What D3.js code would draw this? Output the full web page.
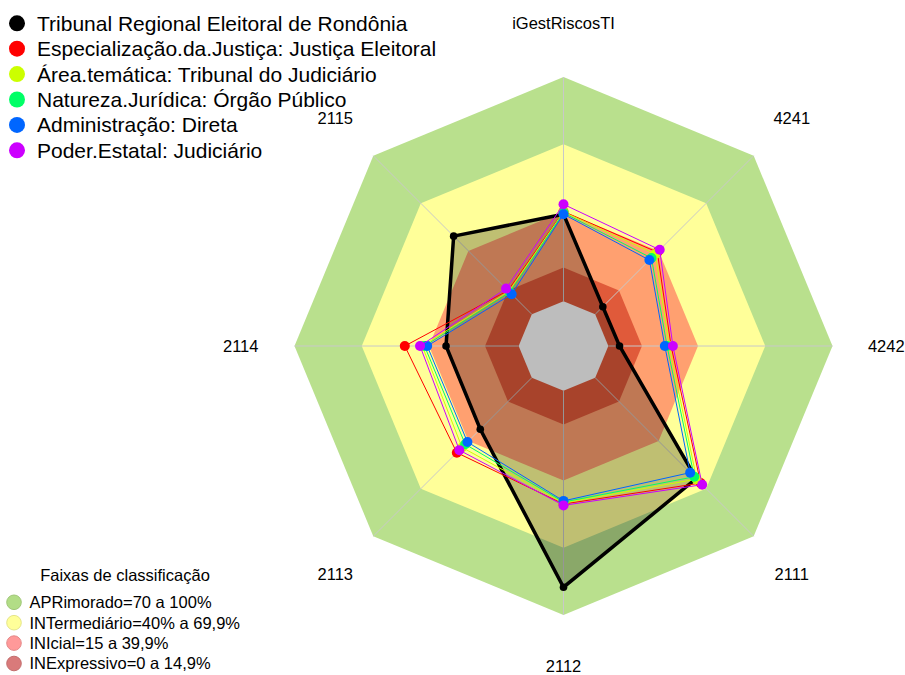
<!DOCTYPE html>
<html>
<head>
<meta charset="utf-8">
<script src="https://cdn.jsdelivr.net/npm/d3@7"></script>
<style>
  body { margin: 0; background: #ffffff; }
  text { font-family: "Liberation Sans", Arial, sans-serif; fill: #000; }
</style>
</head>
<body>
<svg id="chart" width="905" height="675"></svg>
<script>
// Radar axes, counter-clockwise from the top
const axes = ["iGestRiscosTI", "2115", "2114", "2113", "2112", "2111", "4242", "4241"];

// Series (share of the maximum score, 0..1), in axis order
const seriesNames = [
  "Tribunal Regional Eleitoral de Rondônia",
  "Especialização.da.Justiça: Justiça Eleitoral",
  "Área.temática: Tribunal do Judiciário",
  "Natureza.Jurídica: Órgão Público",
  "Administração: Direta",
  "Poder.Estatal: Judiciário"
];
const seriesColors = ["#000000", "#FF0000", "#CCFF00", "#00FF66", "#0066FF", "#CC00FF"];
const tribunal         = [0.388, 0.493, 0.324, 0.325, 0.876, 0.637, 0.050, 0.048];
const justicaEleitoral = [0.400, 0.150, 0.508, 0.473, 0.505, 0.665, 0.280, 0.392];
const tribunalJudic    = [0.398, 0.145, 0.430, 0.440, 0.500, 0.640, 0.272, 0.380];
const orgaoPublico     = [0.394, 0.138, 0.420, 0.420, 0.496, 0.625, 0.262, 0.355];
const adminDireta      = [0.388, 0.127, 0.408, 0.406, 0.491, 0.599, 0.252, 0.342];
const poderJudiciario  = [0.432, 0.162, 0.440, 0.457, 0.511, 0.675, 0.288, 0.407];
const seriesValues = [tribunal, justicaEleitoral, tribunalJudic, orgaoPublico, adminDireta, poderJudiciario];

// Classification bands (upper limit of each band)
const bandNames  = ["APRimorado=70 a 100%", "INTermediário=40% a 69,9%", "INIcial=15 a 39,9%", "INExpressivo=0 a 14,9%"];
const bandLimits = [1.00, 0.70, 0.40, 0.15];
const bandFills  = ["#b9e08d", "#ffff99", "#ffa070", "#e05a3a"];
const bandLegendFills = ["#b2dd86", "#ffff99", "#ff9999", "#d97a7a"];

const width = 905, height = 675;
const cx = 563.5, cy = 346, R = 269;
const svg = d3.select("#chart");

// value -> radius; zero sits on the inner hole (1/6 of the radius)
const rScale = d3.scaleLinear().domain([0, 1]).range([R / 6, R]);
const angle = i => Math.PI / 2 + i * 2 * Math.PI / axes.length;
const px = (v, i) => cx + rScale(v) * Math.cos(angle(i));
const py = (v, i) => cy - rScale(v) * Math.sin(angle(i));
const ring = v => axes.map((_, i) => [px(v, i), py(v, i)]);
const line = d3.line().curve(d3.curveLinearClosed);

// Background bands, outermost first
svg.append("g").selectAll("path").data(bandLimits).join("path")
  .attr("d", v => line(ring(v)))
  .attr("fill", (v, i) => bandFills[i]);
svg.append("path").attr("d", line(ring(0))).attr("fill", "#fdfdfd");

// Axis spokes
svg.append("g").selectAll("line").data(axes).join("line")
  .attr("x1", (d, i) => px(0, i)).attr("y1", (d, i) => py(0, i))
  .attr("x2", (d, i) => px(1, i)).attr("y2", (d, i) => py(1, i))
  .attr("stroke", "#c8c8c8").attr("stroke-width", 1);

// Axis labels (the bottom one is kept inside the frame)
svg.append("g").selectAll("text").data(axes).join("text")
  .attr("x", (d, i) => cx + 1.2 * R * Math.cos(angle(i)))
  .attr("y", (d, i) => Math.min(cy - 1.2 * R * Math.sin(angle(i)), height - 9))
  .attr("text-anchor", "middle").attr("dominant-baseline", "central")
  .attr("font-size", 16.5).text(d => d);

// Series polygons: first one shaded, the rest outlined
const gS = svg.append("g");
seriesValues.forEach((vals, s) => {
  const pts = vals.map((v, i) => [px(v, i), py(v, i)]);
  gS.append("path").attr("d", line(pts))
    .attr("fill", s === 0 ? "rgba(0,0,0,0.25)" : "none")
    .attr("stroke", seriesColors[s])
    .attr("stroke-width", s === 0 ? 3.5 : 1)
    .attr("stroke-linejoin", "miter");
  gS.append("g").selectAll("circle").data(pts).join("circle")
    .attr("cx", d => d[0]).attr("cy", d => d[1])
    .attr("r", s === 0 ? 3.8 : 5)
    .attr("fill", seriesColors[s]);
});

// Series legend
const lg = svg.append("g");
seriesNames.forEach((n, i) => {
  const y = 23.3 + i * 25.4;
  lg.append("circle").attr("cx", 17).attr("cy", y).attr("r", 8).attr("fill", seriesColors[i]);
  lg.append("text").attr("x", 37).attr("y", y + 7.5).attr("font-size", 21).text(n);
});

// Band legend
const bl = svg.append("g");
bl.append("text").attr("x", 125).attr("y", 581).attr("text-anchor", "middle")
  .attr("font-size", 16.5).text("Faixas de classificação");
bandNames.forEach((n, i) => {
  const y = 602.3 + i * 20.4;
  bl.append("circle").attr("cx", 14).attr("cy", y).attr("r", 7.3)
    .attr("fill", bandLegendFills[i]).attr("stroke", d3.color(bandLegendFills[i]).darker(0.3)).attr("stroke-width", 1);
  bl.append("text").attr("x", 29.5).attr("y", y + 5.8).attr("font-size", 16.5).text(n);
});
</script>
</body>
</html>
